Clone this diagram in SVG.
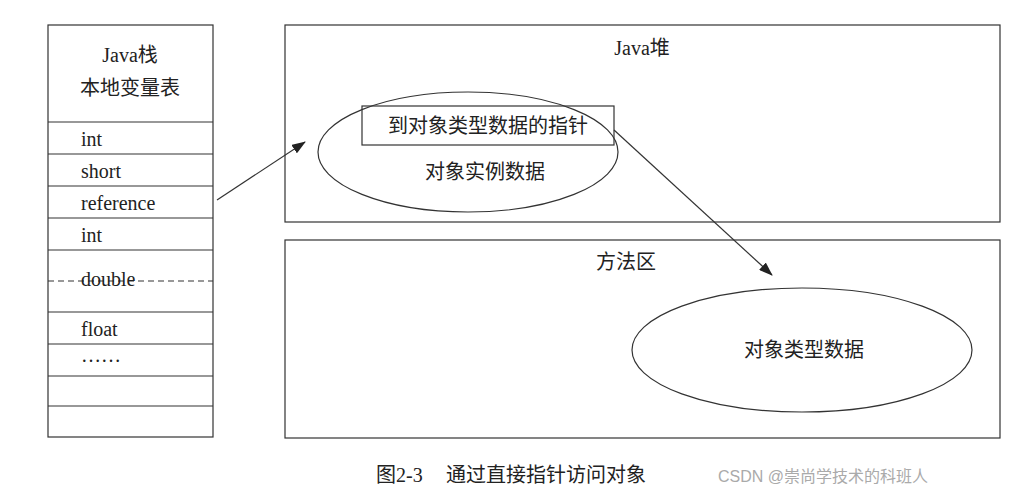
<svg xmlns="http://www.w3.org/2000/svg" width="1011" height="497" viewBox="0 0 1011 497">
<defs>
<style>
.b{fill:none;stroke:#333;stroke-width:1.2}
.t{font-family:"Liberation Serif","Noto Sans CJK SC",serif;font-size:20px;fill:#222}
.c{text-anchor:middle}
.l{stroke:#333;stroke-width:1.2}
</style>
<marker id="a" markerWidth="14" markerHeight="10" refX="13" refY="5" orient="auto" markerUnits="userSpaceOnUse"><path d="M0,0L14,5L0,10z" fill="#222"/></marker>
</defs>
<rect width="1011" height="497" fill="#fff"/>
<g id="stack">
<rect class="b" x="48" y="25" width="165" height="412"/>
<text class="t c" x="130" y="62">Java栈</text>
<text class="t c" x="130" y="95">本地变量表</text>
<line class="l" x1="48" y1="122" x2="213" y2="122"/>
<line class="l" x1="48" y1="154" x2="213" y2="154"/>
<line class="l" x1="48" y1="186" x2="213" y2="186"/>
<line class="l" x1="48" y1="218" x2="213" y2="218"/>
<line class="l" x1="48" y1="250" x2="213" y2="250"/>
<line class="l" x1="48" y1="281" x2="213" y2="281" stroke-dasharray="6,4"/>
<line class="l" x1="48" y1="312" x2="213" y2="312"/>
<line class="l" x1="48" y1="344" x2="213" y2="344"/>
<line class="l" x1="48" y1="376" x2="213" y2="376"/>
<line class="l" x1="48" y1="406" x2="213" y2="406"/>
<text class="t" x="81" y="146">int</text>
<text class="t" x="81" y="178">short</text>
<text class="t" x="81" y="210">reference</text>
<text class="t" x="81" y="242">int</text>
<text class="t" x="81" y="286">double</text>
<text class="t" x="81" y="336">float</text>
<text class="t" x="81" y="362">……</text>
</g>
<g id="heap">
<rect class="b" x="285" y="25" width="715" height="197"/>
<text class="t c" x="642" y="55">Java堆</text>
<ellipse class="b" cx="468" cy="152" rx="150" ry="60"/>
<rect class="b" x="362" y="106" width="252" height="39"/>
<text class="t c" x="488" y="133">到对象类型数据的指针</text>
<text class="t c" x="485" y="179">对象实例数据</text>
</g>
<g id="method">
<rect class="b" x="285" y="240" width="715" height="198"/>
<text class="t c" x="626" y="269">方法区</text>
<ellipse class="b" cx="802" cy="350" rx="170" ry="62"/>
<text class="t c" x="804" y="357">对象类型数据</text>
</g>
<g id="connectors">
<line class="l" x1="217" y1="200" x2="305" y2="142" marker-end="url(#a)"/>
<line class="l" x1="614" y1="130" x2="772" y2="275" marker-end="url(#a)"/>
</g>
<text class="t" x="376" y="482" font-size="18">图2-3</text>
<text class="t" x="446" y="482" font-size="18">通过直接指针访问对象</text>
<text x="718" y="482" font-family="Liberation Sans,Noto Sans CJK SC,sans-serif" font-size="16" fill="#aaa">CSDN @崇尚学技术的科班人</text>
</svg>
